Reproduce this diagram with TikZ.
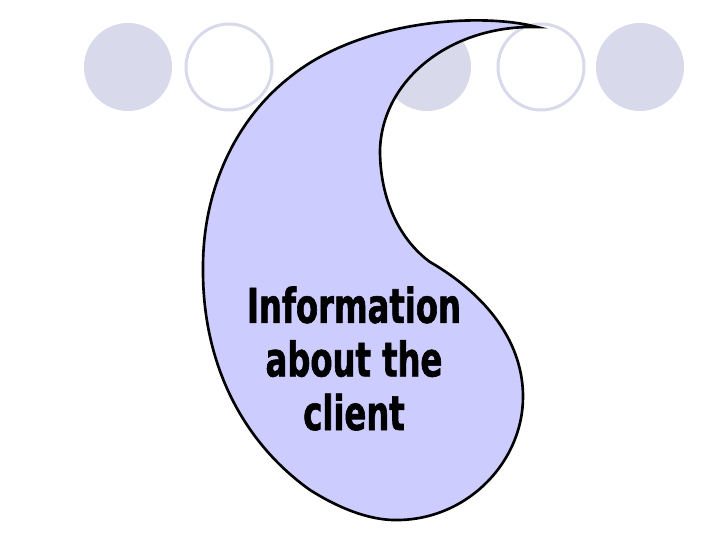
\documentclass[tikz,border=0pt]{standalone}
\usepackage{fontspec}
\usepackage{tikz}
\usetikzlibrary{positioning,calc}
\newfontfamily\tagfont[FakeStretch=0.75,FakeBold=1.2]{DejaVu Sans Condensed Bold}
\definecolor{spotfill}{RGB}{217,217,236}
\definecolor{dropfill}{RGB}{204,204,255}

\begin{document}
\begin{tikzpicture}[x=0.02cm, y=-0.02cm, semithick]
		\tikzstyle{every node}=[inner sep=0pt, outer sep=0pt]
		\tikzstyle{fullspot}=[circle, fill=spotfill, minimum size=1.76cm]
		\tikzstyle{ringspot}=[circle, draw=spotfill, line width=1.7pt, minimum size=1.72cm]
		\tikzstyle{drop}=[draw=black, line width=1.5pt, fill=dropfill, line join=miter]
		\useasboundingbox (0,0) rectangle (720,540);

		% row of spots at the top
		\foreach \cx [count=\i] in {128,427,640}
			\node[fullspot] (full\i) at (\cx,67) {};
		\foreach \cx [count=\i] in {229,541}
			\node[ringspot] (ring\i) at (\cx,67) {};

		% the drop
		\draw[drop] (537,27) .. controls (480,12) and (360,20) .. (290,77)
			.. controls (235,120) and (203,190) .. (203,267)
			.. controls (202,360) and (240,440) .. (310,490)
			.. controls (345,512) and (375,521) .. (400,520)
			.. controls (470,518) and (523,460) .. (523,397)
			.. controls (523,330) and (470,285) .. (430,262)
			.. controls (400,240) and (380,200) .. (380,150)
			.. controls (382,80) and (450,25) .. (537,27) -- cycle;

		\node[align=center, anchor=base, font=\tagfont\fontsize{27.2pt}{30.5pt}\selectfont]
			(info) at (354,430) {Information\\about the\\client};
	\end{tikzpicture}
\end{document}
